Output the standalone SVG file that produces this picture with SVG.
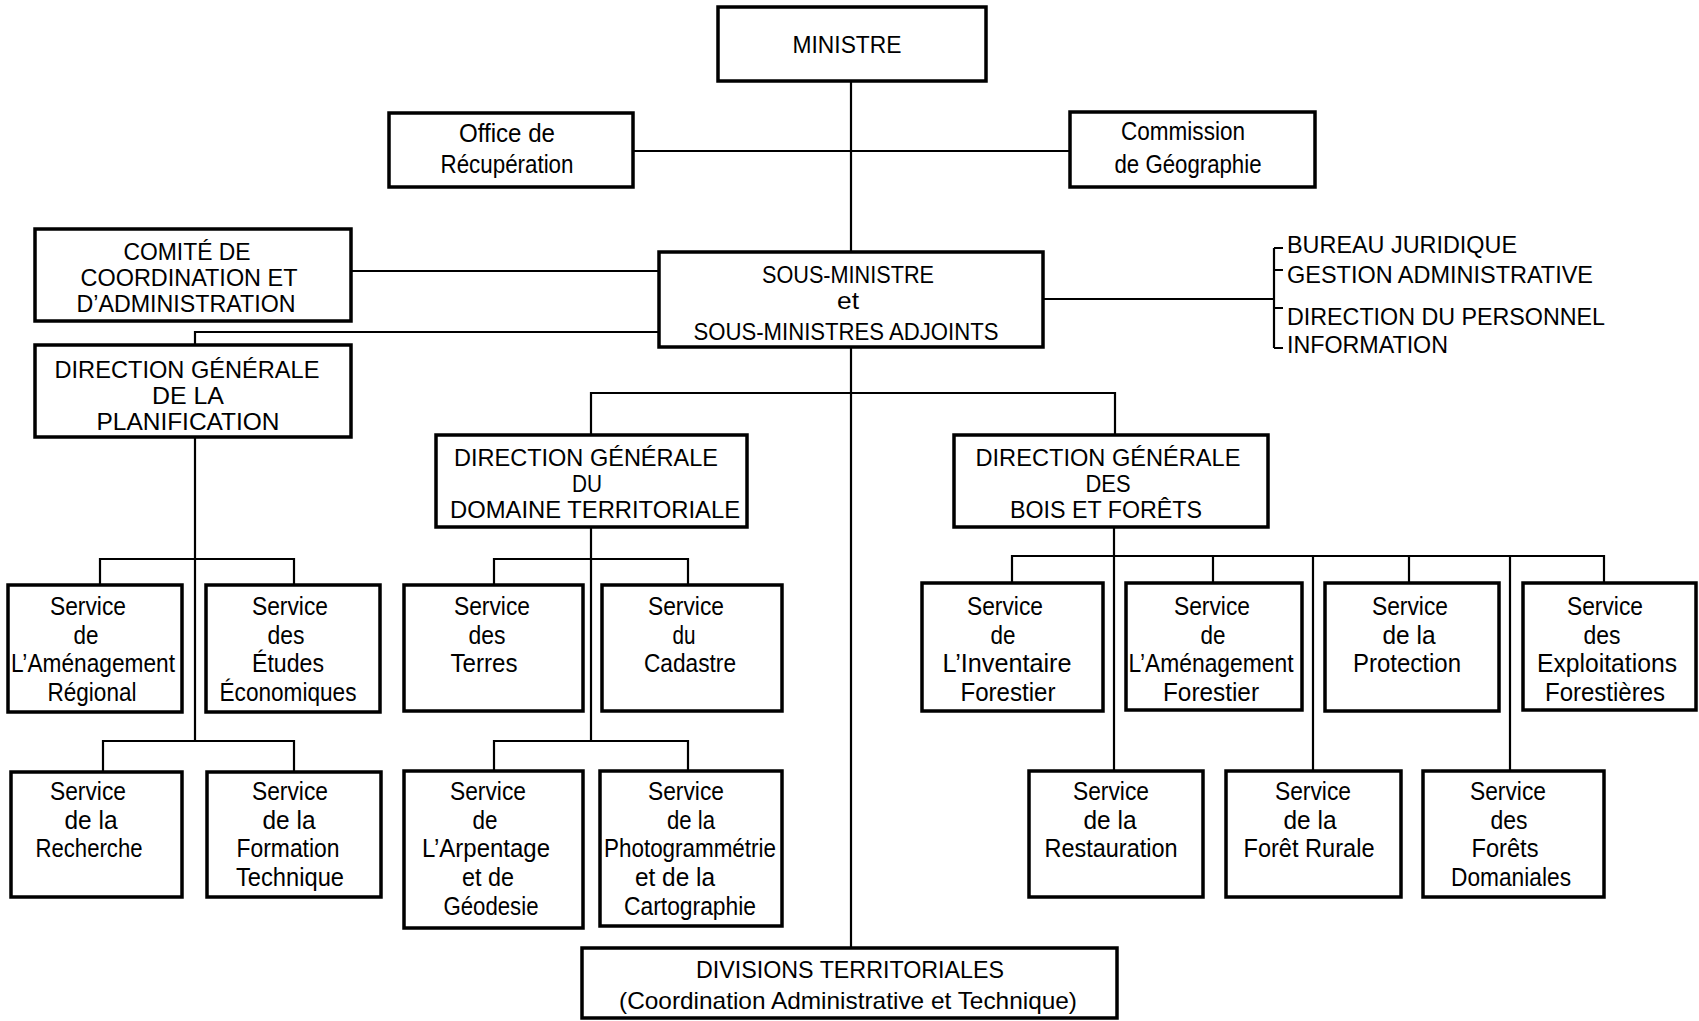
<svg xmlns="http://www.w3.org/2000/svg" width="1699" height="1021" viewBox="0 0 1699 1021">
<style>
.b{fill:#fff;stroke:#000;stroke-width:3.5}
.c{fill:none;stroke:#000;stroke-width:2.2}
text{font-family:"Liberation Sans",Arial,sans-serif;fill:#000;text-anchor:middle}
.k{font-size:24px}
.s{font-size:25px}
.l{text-anchor:start;font-size:24px}
</style>
<rect width="1699" height="1021" fill="#fff"/>
<g id="connectors" class="c">
<path d="M851 81V252M851 347V948"/>
<path d="M633 151H1070"/>
<path d="M351 271H659"/>
<path d="M659 332H195V345"/>
<path d="M1043 299H1274M1274 248V348M1274 248H1283M1274 270H1283M1274 308H1283M1274 348H1283"/>
<path d="M591 435V393H1115V435"/>
<path d="M195 437V741M100 585V559H294V585M103 772V741H294V772"/>
<path d="M591 527V741M494 585V559H688V585M494 772V741H688V772"/>
<path d="M1114 527V771M1012 583V556H1604V583M1213 556V583M1409 556V583M1313 556V771M1510 556V771"/>
</g>
<g id="ministre"><rect class="b" x="718" y="7" width="268" height="74"/><text class="k" x="847" y="53" textLength="109" lengthAdjust="spacingAndGlyphs">MINISTRE</text></g>
<g id="office"><rect class="b" x="389" y="113" width="244" height="74"/><text class="s" x="507" y="142" textLength="96" lengthAdjust="spacingAndGlyphs">Office de</text><text class="s" x="507" y="173" textLength="133" lengthAdjust="spacingAndGlyphs">Récupération</text></g>
<g id="commission"><rect class="b" x="1070" y="112" width="245" height="75"/><text class="s" x="1183" y="140" textLength="124" lengthAdjust="spacingAndGlyphs">Commission</text><text class="s" x="1188" y="173" textLength="147" lengthAdjust="spacingAndGlyphs">de Géographie</text></g>
<g id="comite"><rect class="b" x="35" y="229" width="316" height="92"/><text class="k" x="187" y="260" textLength="127" lengthAdjust="spacingAndGlyphs">COMITÉ DE</text><text class="k" x="189" y="286" textLength="217" lengthAdjust="spacingAndGlyphs">COORDINATION ET</text><text class="k" x="186" y="312" textLength="219" lengthAdjust="spacingAndGlyphs">D’ADMINISTRATION</text></g>
<g id="sous-ministre"><rect class="b" x="659" y="252" width="384" height="95"/><text class="k" x="848" y="283" textLength="172" lengthAdjust="spacingAndGlyphs">SOUS-MINISTRE</text><text class="k" x="848" y="309" textLength="22" lengthAdjust="spacingAndGlyphs">et</text><text class="k" x="846" y="340" textLength="305" lengthAdjust="spacingAndGlyphs">SOUS-MINISTRES ADJOINTS</text></g>
<g id="bureaux"><text class="l" x="1287" y="253" textLength="230" lengthAdjust="spacingAndGlyphs">BUREAU JURIDIQUE</text><text class="l" x="1287" y="283" textLength="306" lengthAdjust="spacingAndGlyphs">GESTION ADMINISTRATIVE</text><text class="l" x="1287" y="325" textLength="318" lengthAdjust="spacingAndGlyphs">DIRECTION DU PERSONNEL</text><text class="l" x="1287" y="353" textLength="161" lengthAdjust="spacingAndGlyphs">INFORMATION</text></g>
<g id="dg-planification"><rect class="b" x="35" y="345" width="316" height="92"/><text class="k" x="187" y="378" textLength="265" lengthAdjust="spacingAndGlyphs">DIRECTION GÉNÉRALE</text><text class="k" x="188" y="404" textLength="72" lengthAdjust="spacingAndGlyphs">DE LA</text><text class="k" x="188" y="430" textLength="183" lengthAdjust="spacingAndGlyphs">PLANIFICATION</text></g>
<g id="dg-domaine"><rect class="b" x="436" y="435" width="311" height="92"/><text class="k" x="586" y="466" textLength="264" lengthAdjust="spacingAndGlyphs">DIRECTION GÉNÉRALE</text><text class="k" x="587" y="492" textLength="30" lengthAdjust="spacingAndGlyphs">DU</text><text class="k" x="595" y="518" textLength="290" lengthAdjust="spacingAndGlyphs">DOMAINE TERRITORIALE</text></g>
<g id="dg-bois"><rect class="b" x="954" y="435" width="314" height="92"/><text class="k" x="1108" y="466" textLength="265" lengthAdjust="spacingAndGlyphs">DIRECTION GÉNÉRALE</text><text class="k" x="1108" y="492" textLength="45" lengthAdjust="spacingAndGlyphs">DES</text><text class="k" x="1106" y="518" textLength="192" lengthAdjust="spacingAndGlyphs">BOIS ET FORÊTS</text></g>
<g id="s-amenagement-regional"><rect class="b" x="8" y="585" width="174" height="127"/><text class="s" x="88" y="615" textLength="76" lengthAdjust="spacingAndGlyphs">Service</text><text class="s" x="86" y="644" textLength="25" lengthAdjust="spacingAndGlyphs">de</text><text class="s" x="93" y="672" textLength="164" lengthAdjust="spacingAndGlyphs">L’Aménagement</text><text class="s" x="92" y="701" textLength="89" lengthAdjust="spacingAndGlyphs">Régional</text></g>
<g id="s-etudes"><rect class="b" x="206" y="585" width="174" height="127"/><text class="s" x="290" y="615" textLength="76" lengthAdjust="spacingAndGlyphs">Service</text><text class="s" x="286" y="644" textLength="37" lengthAdjust="spacingAndGlyphs">des</text><text class="s" x="288" y="672" textLength="72" lengthAdjust="spacingAndGlyphs">Études</text><text class="s" x="288" y="701" textLength="137" lengthAdjust="spacingAndGlyphs">Économiques</text></g>
<g id="s-terres"><rect class="b" x="404" y="585" width="179" height="126"/><text class="s" x="492" y="615" textLength="76" lengthAdjust="spacingAndGlyphs">Service</text><text class="s" x="487" y="644" textLength="37" lengthAdjust="spacingAndGlyphs">des</text><text class="s" x="484" y="672" textLength="67" lengthAdjust="spacingAndGlyphs">Terres</text></g>
<g id="s-cadastre"><rect class="b" x="602" y="585" width="180" height="126"/><text class="s" x="686" y="615" textLength="76" lengthAdjust="spacingAndGlyphs">Service</text><text class="s" x="684" y="644" textLength="23" lengthAdjust="spacingAndGlyphs">du</text><text class="s" x="690" y="672" textLength="92" lengthAdjust="spacingAndGlyphs">Cadastre</text></g>
<g id="s-inventaire"><rect class="b" x="922" y="583" width="181" height="128"/><text class="s" x="1005" y="615" textLength="76" lengthAdjust="spacingAndGlyphs">Service</text><text class="s" x="1003" y="644" textLength="25" lengthAdjust="spacingAndGlyphs">de</text><text class="s" x="1007" y="672" textLength="129" lengthAdjust="spacingAndGlyphs">L’Inventaire</text><text class="s" x="1008" y="701" textLength="95" lengthAdjust="spacingAndGlyphs">Forestier</text></g>
<g id="s-amenagement-forestier"><rect class="b" x="1126" y="583" width="176" height="127"/><text class="s" x="1212" y="615" textLength="76" lengthAdjust="spacingAndGlyphs">Service</text><text class="s" x="1213" y="644" textLength="25" lengthAdjust="spacingAndGlyphs">de</text><text class="s" x="1211" y="672" textLength="165" lengthAdjust="spacingAndGlyphs">L’Aménagement</text><text class="s" x="1211" y="701" textLength="96" lengthAdjust="spacingAndGlyphs">Forestier</text></g>
<g id="s-protection"><rect class="b" x="1325" y="583" width="174" height="128"/><text class="s" x="1410" y="615" textLength="76" lengthAdjust="spacingAndGlyphs">Service</text><text class="s" x="1409" y="644" textLength="53" lengthAdjust="spacingAndGlyphs">de la</text><text class="s" x="1407" y="672" textLength="108" lengthAdjust="spacingAndGlyphs">Protection</text></g>
<g id="s-exploitations"><rect class="b" x="1523" y="583" width="173" height="127"/><text class="s" x="1605" y="615" textLength="76" lengthAdjust="spacingAndGlyphs">Service</text><text class="s" x="1602" y="644" textLength="37" lengthAdjust="spacingAndGlyphs">des</text><text class="s" x="1607" y="672" textLength="140" lengthAdjust="spacingAndGlyphs">Exploitations</text><text class="s" x="1605" y="701" textLength="120" lengthAdjust="spacingAndGlyphs">Forestières</text></g>
<g id="s-recherche"><rect class="b" x="11" y="772" width="171" height="125"/><text class="s" x="88" y="800" textLength="76" lengthAdjust="spacingAndGlyphs">Service</text><text class="s" x="91" y="829" textLength="53" lengthAdjust="spacingAndGlyphs">de la</text><text class="s" x="89" y="857" textLength="107" lengthAdjust="spacingAndGlyphs">Recherche</text></g>
<g id="s-formation"><rect class="b" x="207" y="772" width="174" height="125"/><text class="s" x="290" y="800" textLength="76" lengthAdjust="spacingAndGlyphs">Service</text><text class="s" x="289" y="829" textLength="53" lengthAdjust="spacingAndGlyphs">de la</text><text class="s" x="288" y="857" textLength="103" lengthAdjust="spacingAndGlyphs">Formation</text><text class="s" x="290" y="886" textLength="108" lengthAdjust="spacingAndGlyphs">Technique</text></g>
<g id="s-arpentage"><rect class="b" x="404" y="771" width="179" height="157"/><text class="s" x="488" y="800" textLength="76" lengthAdjust="spacingAndGlyphs">Service</text><text class="s" x="485" y="829" textLength="25" lengthAdjust="spacingAndGlyphs">de</text><text class="s" x="486" y="857" textLength="128" lengthAdjust="spacingAndGlyphs">L’Arpentage</text><text class="s" x="488" y="886" textLength="52" lengthAdjust="spacingAndGlyphs">et de</text><text class="s" x="491" y="915" textLength="95" lengthAdjust="spacingAndGlyphs">Géodesie</text></g>
<g id="s-photogrammetrie"><rect class="b" x="600" y="771" width="182" height="155"/><text class="s" x="686" y="800" textLength="76" lengthAdjust="spacingAndGlyphs">Service</text><text class="s" x="691" y="829" textLength="48" lengthAdjust="spacingAndGlyphs">de la</text><text class="s" x="690" y="857" textLength="172" lengthAdjust="spacingAndGlyphs">Photogrammétrie</text><text class="s" x="675" y="886" textLength="80" lengthAdjust="spacingAndGlyphs">et de la</text><text class="s" x="690" y="915" textLength="132" lengthAdjust="spacingAndGlyphs">Cartographie</text></g>
<g id="s-restauration"><rect class="b" x="1029" y="771" width="174" height="126"/><text class="s" x="1111" y="800" textLength="76" lengthAdjust="spacingAndGlyphs">Service</text><text class="s" x="1110" y="829" textLength="53" lengthAdjust="spacingAndGlyphs">de la</text><text class="s" x="1111" y="857" textLength="133" lengthAdjust="spacingAndGlyphs">Restauration</text></g>
<g id="s-foret-rurale"><rect class="b" x="1226" y="771" width="175" height="126"/><text class="s" x="1313" y="800" textLength="76" lengthAdjust="spacingAndGlyphs">Service</text><text class="s" x="1310" y="829" textLength="53" lengthAdjust="spacingAndGlyphs">de la</text><text class="s" x="1309" y="857" textLength="131" lengthAdjust="spacingAndGlyphs">Forêt Rurale</text></g>
<g id="s-forets-domaniales"><rect class="b" x="1423" y="771" width="181" height="126"/><text class="s" x="1508" y="800" textLength="76" lengthAdjust="spacingAndGlyphs">Service</text><text class="s" x="1509" y="829" textLength="37" lengthAdjust="spacingAndGlyphs">des</text><text class="s" x="1505" y="857" textLength="67" lengthAdjust="spacingAndGlyphs">Forêts</text><text class="s" x="1511" y="886" textLength="120" lengthAdjust="spacingAndGlyphs">Domaniales</text></g>
<g id="divisions"><rect class="b" x="582" y="948" width="535" height="70"/><text class="k" x="850" y="978" textLength="308" lengthAdjust="spacingAndGlyphs">DIVISIONS TERRITORIALES</text><text class="k" x="848" y="1009" textLength="458" lengthAdjust="spacingAndGlyphs">(Coordination Administrative et Technique)</text></g>
</svg>
